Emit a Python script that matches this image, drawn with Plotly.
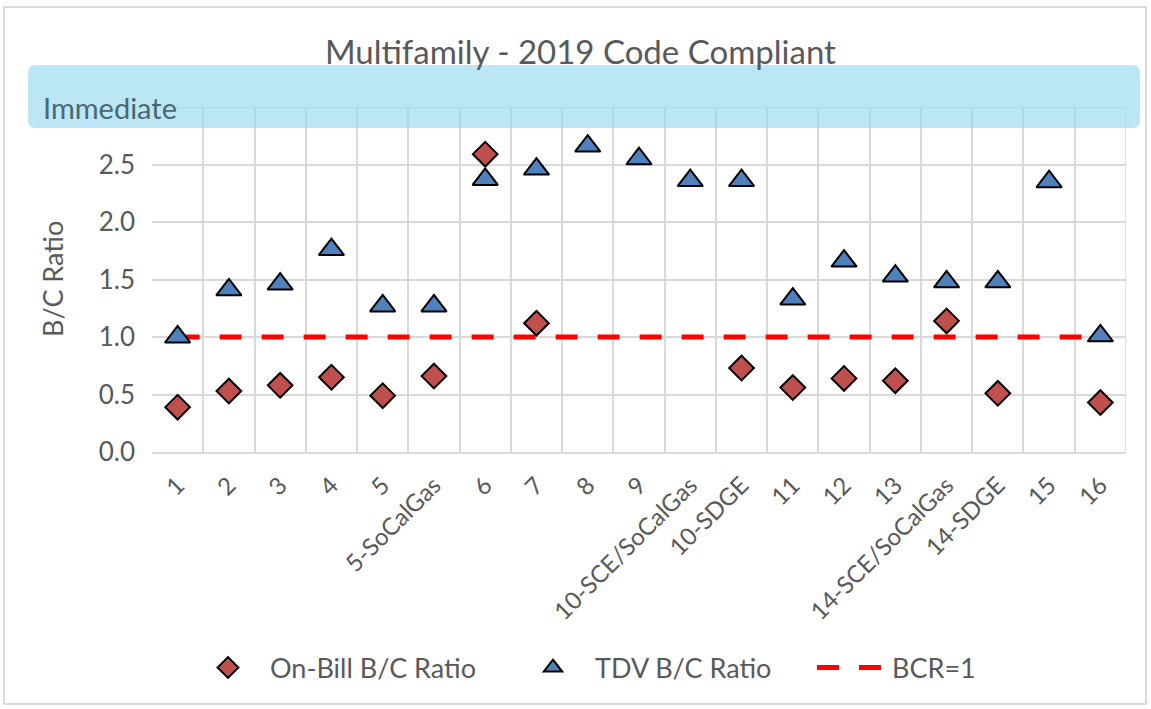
import plotly.graph_objects as go

categories = ["1", "2", "3", "4", "5", "5-SoCalGas", "6", "7", "8", "9",
              "10-SCE/SoCalGas", "10-SDGE", "11", "12", "13",
              "14-SCE/SoCalGas", "14-SDGE", "15", "16"]
on_bill = [0.39, 0.53, 0.58, 0.65, 0.49, 0.66, 2.59, 1.12, None, None,
           None, 0.73, 0.56, 0.64, 0.62, 1.14, 0.51, None, 0.43]
tdv = [1.00, 1.41, 1.46, 1.76, 1.27, 1.27, 2.37, 2.46, 2.66, 2.55,
       2.36, 2.36, 1.33, 1.66, 1.53, 1.48, 1.48, 2.35, 1.01]
bcr = [1.0, 1.0, 1.0, 1.0, 1.0, 1.0, 1.0, 1.0, 1.0, 1.0,
       1.0, 1.0, 1.0, 1.0, 1.0, 1.0, 1.0, 1.0, 1.0]
y_ticks = [0.0, 0.5, 1.0, 1.5, 2.0, 2.5]
y_tick_text = ["0.0", "0.5", "1.0", "1.5", "2.0", "2.5"]

FONT = "Lato"
GREY = "#595959"

W, H = 1151, 709
L, R, T, B = 152, 1126, 107, 452
pw, ph = R - L, B - T


def px(x):
    return (x - L) / pw


def py(y):
    return (B - y) / ph


fig = go.Figure()

fig.add_trace(go.Scatter(
    x=categories, y=bcr, mode="lines", name="BCR=1", legend="legend3",
    line=dict(color="#FF0000", width=5, dash="22px,20px"),
))
fig.add_trace(go.Scatter(
    x=categories, y=on_bill, mode="markers", name="On-Bill B/C Ratio", legend="legend",
    marker=dict(symbol="diamond", size=19, color="#C0504D",
                line=dict(color="#000000", width=2)),
))
fig.add_trace(go.Scatter(
    x=categories, y=tdv, mode="markers", name="TDV B/C Ratio", legend="legend2",
    marker=dict(symbol="triangle-up", size=22, color="#4F81BD",
                line=dict(color="#000000", width=2)),
))

# rounded "Immediate" band
bx0, bx1, by0, by1 = px(28), px(1140), py(128), py(65)
rx, ry = 8 / pw, 8 / ph
band_path = (
    f"M {bx0 + rx},{by0} L {bx1 - rx},{by0} Q {bx1},{by0} {bx1},{by0 + ry} "
    f"L {bx1},{by1 - ry} Q {bx1},{by1} {bx1 - rx},{by1} "
    f"L {bx0 + rx},{by1} Q {bx0},{by1} {bx0},{by1 - ry} "
    f"L {bx0},{by0 + ry} Q {bx0},{by0} {bx0 + rx},{by0} Z"
)

shapes = [
    dict(type="rect", xref="paper", yref="paper",
         x0=px(4), x1=px(1146), y0=py(704), y1=py(7),
         line=dict(color="#D0D0D0", width=1.5), fillcolor="rgba(0,0,0,0)",
         layer="below"),
    dict(type="path", xref="paper", yref="paper", path=band_path,
         fillcolor="rgba(146,214,240,0.62)", line=dict(width=0), layer="above"),
]

annotations = [
    dict(text="Multifamily - 2019 Code Compliant", xref="paper", yref="paper",
         x=px(580), y=py(51), xanchor="center", yanchor="middle", showarrow=False,
         font=dict(family=FONT, size=33, color=GREY)),
    dict(text="Immediate", xref="paper", yref="paper",
         x=px(41), y=py(108), xanchor="left", yanchor="middle", showarrow=False,
         font=dict(family=FONT, size=29, color="#4B6770")),
    dict(text="B/C Ratio", xref="paper", yref="paper",
         x=px(52), y=py(279), xanchor="center", yanchor="middle", showarrow=False,
         textangle=-90, font=dict(family=FONT, size=27, color=GREY)),
]

legend_common = dict(orientation="h", y=py(668), xanchor="left", yanchor="middle",
                     font=dict(family=FONT, size=27, color=GREY),
                     bgcolor="rgba(0,0,0,0)", itemwidth=74)

fig.update_layout(
    width=W, height=H,
    margin=dict(l=L, r=W - R, t=T, b=H - B, pad=0),
    paper_bgcolor="white", plot_bgcolor="white",
    font=dict(family=FONT, size=24, color=GREY),
    shapes=shapes, annotations=annotations,
    showlegend=True,
    legend=dict(x=px(186), **legend_common),
    legend2=dict(x=px(511), **legend_common),
    legend3=dict(x=px(812), **{**legend_common, "itemwidth": 70}),
)

fig.update_xaxes(
    type="category", categoryorder="array", categoryarray=categories,
    tickangle=-45, tickson="boundaries", ticks="",
    showgrid=True, gridcolor="#D9D9D9", gridwidth=1.5,
    showline=True, linecolor="#D9D9D9", linewidth=1.5,
    tickfont=dict(family=FONT, size=24, color=GREY), ticklabelstandoff=8,
    range=[-0.5, len(categories) - 0.5], mirror=False,
)
fig.update_yaxes(
    range=[0, 3.0], tickvals=y_ticks, ticktext=y_tick_text,
    showgrid=True, gridcolor="#D9D9D9", gridwidth=1.5, zeroline=False,
    showline=False, ticks="", ticklabelstandoff=16,
    tickfont=dict(family=FONT, size=26, color=GREY),
)
fig.add_shape(type="line", xref="paper", yref="y", x0=0, x1=1, y0=3.0, y1=3.0,
              line=dict(color="#D9D9D9", width=1.5), layer="below")
fig.add_shape(type="line", xref="x", yref="paper", x0=len(categories) - 0.5,
              x1=len(categories) - 0.5, y0=0, y1=1,
              line=dict(color="#D9D9D9", width=1.5), layer="below")

fig.write_html("out.html", config={"displayModeBar": False},
               post_script="document.body.style.margin='0';document.body.style.overflow='hidden';")
